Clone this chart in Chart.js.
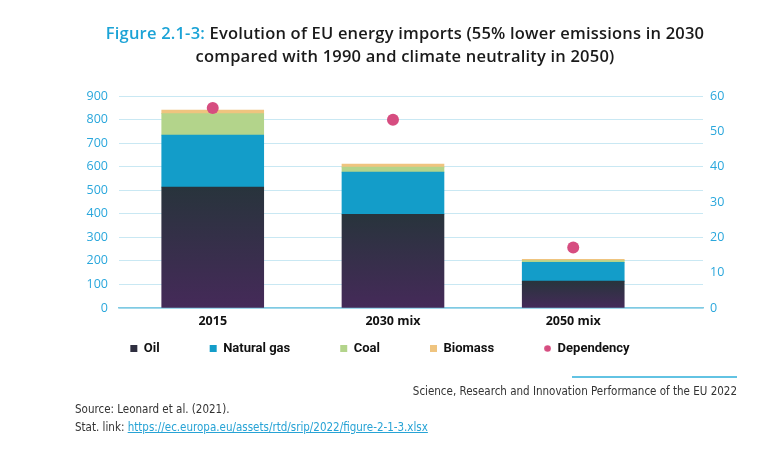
<!DOCTYPE html>
<html>
<head>
<meta charset="utf-8">
<script src="https://cdn.jsdelivr.net/npm/chart.js@4.4.1/dist/chart.umd.min.js"></script>
<style>
  html, body { margin: 0; padding: 0; background: #fff; }
  #page { position: relative; width: 772px; height: 455px; overflow: hidden; }
  #chartBox { position: absolute; left: 0; top: 0; width: 772px; height: 455px; }
  #title {
    position: absolute; left: 40px; top: 21px; width: 730px;
    text-align: center; font-family: "Open Sans", sans-serif; font-weight: 600;
    font-size: 16.5px; letter-spacing: 0.2px; line-height: 23px; color: #1a1a1a;
  }
  #title .fig { color: #1ba3d6; }
  .foot { position: absolute; font-family: "DejaVu Sans", sans-serif; font-stretch: condensed; font-size: 11.5px; color: #333; }
  #pubLine { position: absolute; left: 572px; top: 376px; width: 165px; height: 2px; background: #62c3e3; }
  #pub { right: 35px; top: 384px; }
  #src { left: 75px; top: 402px; }
  #stat { left: 75px; top: 420px; }
  #stat a { color: #27a3d5; }
</style>
</head>
<body>
<div id="page">
  <div id="chartBox"><canvas id="chart"></canvas></div>
  <div id="title"><span class="fig">Figure 2.1-3:</span> Evolution of EU energy imports (55% lower emissions in 2030<br>compared with 1990 and climate neutrality in 2050)</div>
  <div id="pubLine"></div>
  <div class="foot" id="pub">Science, Research and Innovation Performance of the EU 2022</div>
  <div class="foot" id="src">Source: Leonard et al. (2021).</div>
  <div class="foot" id="stat">Stat. link: <a href="https://ec.europa.eu/assets/rtd/srip/2022/figure-2-1-3.xlsx">https://ec.europa.eu/assets/rtd/srip/2022/figure-2-1-3.xlsx</a></div>
</div>
<script>
// EU energy imports by fuel (Mtoe, left axis) and import dependency (%, right axis)
const categories = ['2015', '2030 mix', '2050 mix'];
const oil = [513, 398, 114];
const naturalGas = [221, 179, 80];
const coal = [91, 21, 7];
const biomass = [15, 13, 6];
const dependency = [56.6, 53.3, 17.1];
const leftTicks = [0, 100, 200, 300, 400, 500, 600, 700, 800, 900];
const rightTicks = [0, 10, 20, 30, 40, 50, 60];

const tickBlue = '#2aa7dc';
const fontFamily = '"Open Sans", sans-serif';
const legendFamily = 'Roboto, sans-serif';
const dotColor = '#d64d80';

function points(values) {
    return values.map(function (v, i) { return { x: i, y: v }; });
}

// oil bars fade from dark slate at the top to purple at the base
function oilGradient(context) {
    const chart = context.chart;
    if (!chart.chartArea || context.type !== 'data') return '#2f2f40';
    const y = chart.scales.y;
    const top = y.getPixelForValue(context.raw.y);
    const bottom = y.getPixelForValue(0);
    const g = chart.ctx.createLinearGradient(0, top, 0, bottom);
    g.addColorStop(0, '#28343c');
    g.addColorStop(1, '#452a59');
    return g;
}

// small dot for the legend, the plot markers are bigger
const legendDot = document.createElement('canvas');
legendDot.width = 7;
legendDot.height = 7;
(function () {
    const c = legendDot.getContext('2d');
    c.fillStyle = dotColor;
    c.beginPath();
    c.arc(3.5, 3.5, 3.3, 0, Math.PI * 2);
    c.fill();
})();

const barCommon = { barThickness: 102, borderWidth: 0, order: 1, pointStyle: 'rect' };

// the legend sits closer to the axis than Chart.js' padding would allow,
// and a little left of centre like the original
const legendShift = {
    id: 'legendShift',
    afterLayout: function (chart) {
        const lg = chart.legend;
        const want = chart.chartArea.bottom + 34 - lg.options.labels.padding;
        const d = lg.top - want;
        lg.top -= d;
        lg.bottom -= d;
        lg.left -= 6;
        lg.right -= 6;
    }
};

new Chart(document.getElementById('chart'), {
    type: 'bar',
    data: {
        datasets: [
            Object.assign({ label: 'Oil', data: points(oil), backgroundColor: oilGradient }, barCommon),
            Object.assign({ label: 'Natural gas', data: points(naturalGas), backgroundColor: '#139dc9' }, barCommon),
            Object.assign({ label: 'Coal', data: points(coal), backgroundColor: '#b3d48b' }, barCommon),
            Object.assign({ label: 'Biomass', data: points(biomass), backgroundColor: '#efc47f' }, barCommon),
            {
                type: 'line',
                label: 'Dependency',
                data: points(dependency),
                yAxisID: 'y1',
                showLine: false,
                pointRadius: 6,
                pointStyle: 'circle',
                backgroundColor: dotColor,
                borderColor: dotColor,
                borderWidth: 0,
                order: 0
            }
        ]
    },
    options: {
        responsive: true,
        maintainAspectRatio: false,
        animation: false,
        layout: { padding: { top: 96, right: 0, bottom: 48, left: 0 } },
        scales: {
            x: {
                type: 'linear',
                min: -0.52,
                max: 2.72,
                offset: false,
                stacked: true,
                afterBuildTicks: function (scale) {
                    scale.ticks = categories.map(function (c, i) { return { value: i }; });
                },
                afterFit: function (scale) { scale.height = 26; },
                ticks: {
                    padding: 6,
                    color: '#111',
                    font: { family: fontFamily, size: 12.5, weight: 'bold' },
                    callback: function (v) { return categories[v]; }
                },
                grid: { display: false, drawTicks: false, offset: false },
                border: { display: true, color: '#7fcae3', width: 1.5 }
            },
            y: {
                stacked: true,
                position: 'left',
                min: 0,
                max: 900,
                afterBuildTicks: function (scale) {
                    scale.ticks = leftTicks.map(function (v) { return { value: v }; });
                },
                afterFit: function (scale) { scale.width = 119; },
                ticks: { padding: 11, color: tickBlue, font: { family: fontFamily, size: 12.5 } },
                grid: { color: '#c9e8f3', lineWidth: 1, drawTicks: false },
                border: { display: false }
            },
            y1: {
                position: 'right',
                min: 0,
                max: 60,
                afterBuildTicks: function (scale) {
                    scale.ticks = rightTicks.map(function (v) { return { value: v }; });
                },
                afterFit: function (scale) { scale.width = 69; },
                ticks: { padding: 7, color: tickBlue, font: { family: fontFamily, size: 12.5 } },
                grid: { display: false, drawTicks: false },
                border: { display: false }
            }
        },
        plugins: {
            legend: {
                position: 'bottom',
                labels: {
                    usePointStyle: true,
                    boxWidth: 7,
                    boxHeight: 7,
                    padding: 50,
                    color: '#111',
                    font: { family: legendFamily, size: 13, weight: 'bold' },
                    sort: function (a, b) { return a.datasetIndex - b.datasetIndex; },
                    generateLabels: function (chart) {
                        const items = Chart.defaults.plugins.legend.labels.generateLabels(chart);
                        items.forEach(function (it) {
                            if (it.datasetIndex === 0) {
                                it.fillStyle = '#2f2f40';
                                it.strokeStyle = '#2f2f40';
                            }
                            if (it.datasetIndex === 4) it.pointStyle = legendDot;
                            it.lineWidth = 0;
                        });
                        return items;
                    }
                }
            },
            tooltip: { enabled: false }
        }
    },
    plugins: [legendShift]
});
</script>
</body>
</html>
